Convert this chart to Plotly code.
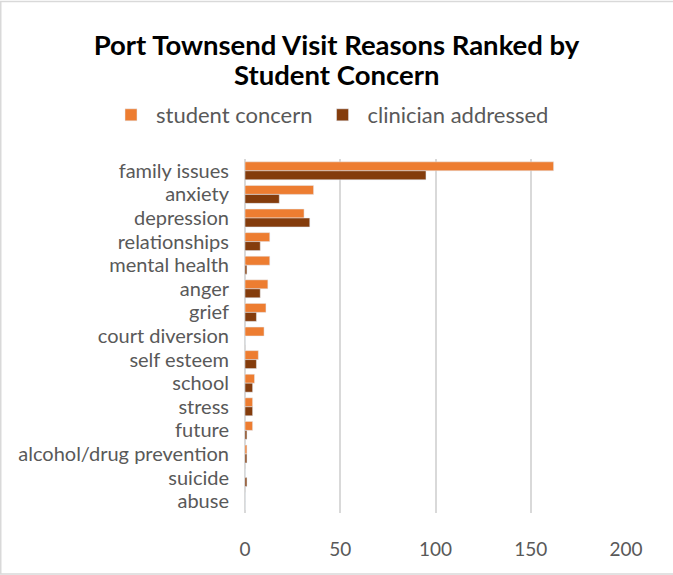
import plotly.graph_objects as go

categories = ["family issues", "anxiety", "depression", "relationships", "mental health",
              "anger", "grief", "court diversion", "self esteem", "school", "stress",
              "future", "alcohol/drug prevention", "suicide", "abuse"]
student_concern = [162, 36, 31, 13, 13, 12, 11, 10, 7, 5, 4, 4, 1, 0, 0]
clinician_addressed = [95, 18, 34, 8, 1, 8, 6, 0, 6, 4, 4, 1, 1, 1, 0]
x_ticks = [0, 50, 100, 150, 200]

W, H = 673, 575
ml, mr, mt, mb = 245, 47, 159, 62

fig = go.Figure()
fig.add_trace(go.Bar(y=categories, x=student_concern, orientation="h",
                     name="student concern", marker_color="#ED7D31"))
fig.add_trace(go.Bar(y=categories, x=clinician_addressed, orientation="h",
                     name="clinician addressed", marker_color="#843C0C"))

pw = W - ml - mr
ph = H - mt - mb
title_font = dict(size=27.5, color="black", family="Lato, Open Sans, sans-serif")
fig.update_layout(
    width=W, height=H,
    margin=dict(l=ml, r=mr, t=mt, b=mb),
    paper_bgcolor="white", plot_bgcolor="white",
    font=dict(family="Lato, Open Sans, sans-serif", color="#595959"),
    title=dict(text="<b>Port Townsend Visit Reasons Ranked by</b>",
               x=0.5, xref="container", xanchor="center", y=1 - 45 / H, yref="container",
               yanchor="middle", font=title_font),
    annotations=[dict(text="<b>Student Concern</b>", xref="paper", yref="paper",
                      x=(W / 2 - ml) / pw, y=1 + (mt - 75) / ph, xanchor="center",
                      yanchor="middle", showarrow=False, font=title_font)],
    barmode="group", bargap=0.24, bargroupgap=0,
    legend=dict(orientation="h", x=(106 - ml) / pw, xref="paper", xanchor="left",
                y=1 + (mt - 115) / ph, yref="paper", yanchor="middle",
                font=dict(size=22, color="#595959"), traceorder="normal",
                itemwidth=40),
    xaxis=dict(range=[0, 200], tickvals=x_ticks, showgrid=True, gridcolor="#D9D9D9",
               gridwidth=2, zeroline=True, zerolinecolor="#D9D9D9", zerolinewidth=2,
               tickfont=dict(size=19, color="#595959"), ticks="outside", ticklen=19,
               tickcolor="white", showline=False, fixedrange=True),
    yaxis=dict(autorange="reversed", tickmode="array", tickvals=categories,
               tickfont=dict(size=20, color="#595959"),
               ticks="outside", ticklen=11, tickcolor="white", showline=False),
    shapes=[dict(type="rect", xref="paper", yref="paper",
                 x0=-ml / pw + 0.75 / pw, x1=1 + (mr + 10) / pw,
                 y0=-(mb - 1) / ph, y1=1 + (mt - 1.5) / ph,
                 line=dict(color="#D9D9D9", width=1.5), fillcolor="rgba(0,0,0,0)")],
)
fig.write_html("out.html", config={"displayModeBar": False},
               post_script="document.body.style.margin='0';document.body.style.overflow='hidden';")
